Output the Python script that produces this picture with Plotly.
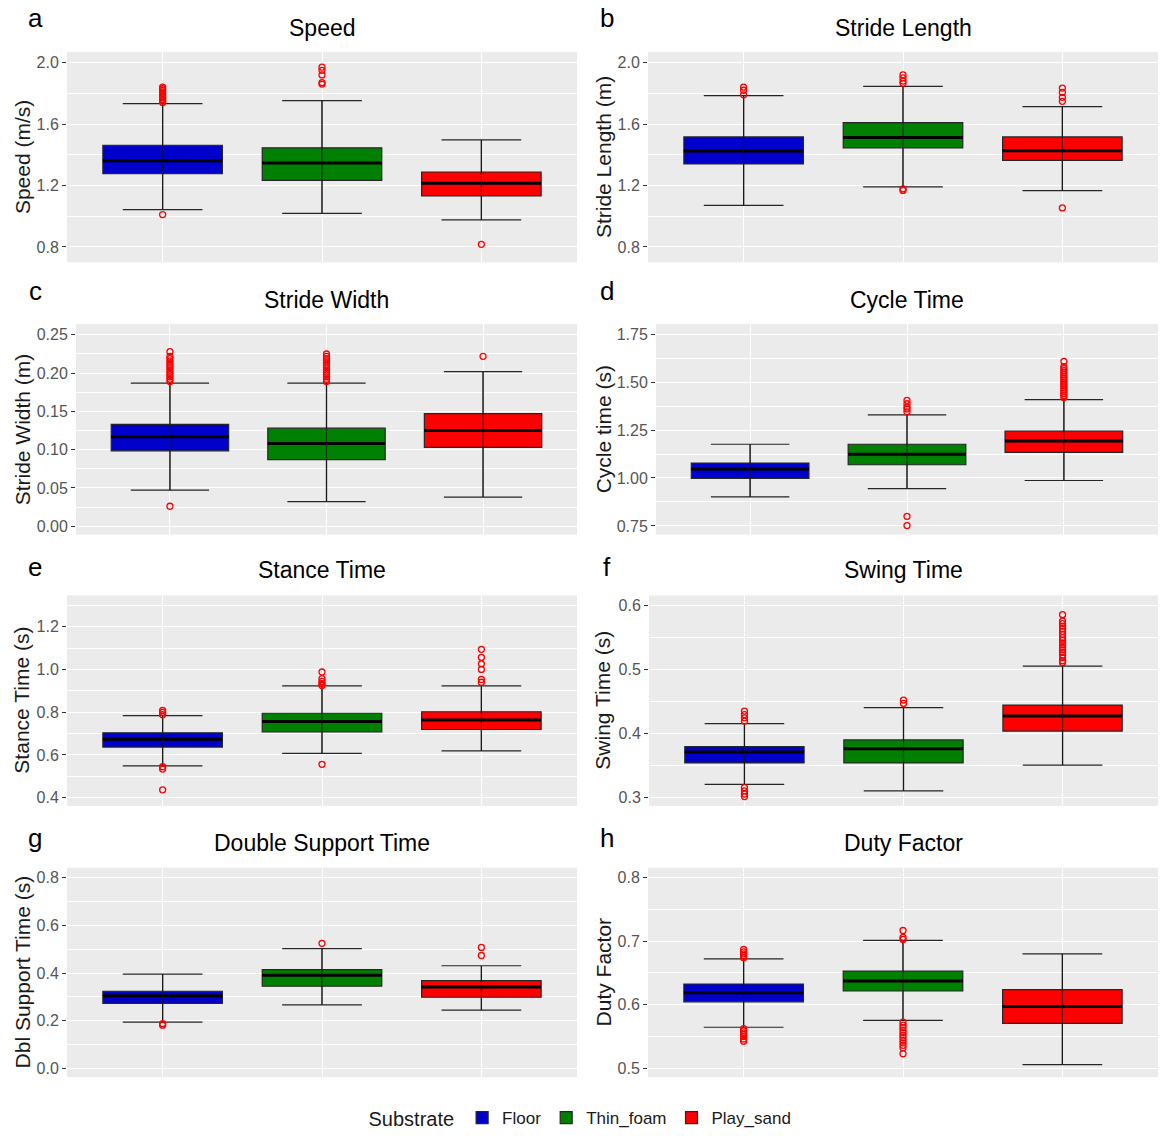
import plotly.graph_objects as go

# ---- data -------------------------------------------------------------
SUBSTRATES = ["Floor", "Thin_foam", "Play_sand"]

# Each row: [lower whisker, Q1, median, Q3, upper whisker], one row per substrate
speed_box = [
    [1.043, 1.277, 1.361, 1.462, 1.733],
    [1.019, 1.234, 1.346, 1.445, 1.753],
    [0.976, 1.133, 1.215, 1.288, 1.497],
]
speed_out = [
    [1.011, 1.74, 1.75, 1.76, 1.77, 1.78, 1.79, 1.80, 1.81, 1.82, 1.83, 1.84],
    [1.86, 1.87, 1.92, 1.95, 1.97],
    [0.817],
]

stride_len_box = [
    [1.071, 1.340, 1.424, 1.516, 1.785],
    [1.191, 1.445, 1.512, 1.609, 1.845],
    [1.166, 1.363, 1.426, 1.516, 1.714],
]
stride_len_out = [
    [1.79, 1.82, 1.84],
    [1.168, 1.178, 1.865, 1.88, 1.90, 1.92],
    [1.054, 1.748, 1.774, 1.806, 1.834],
]

stride_wid_box = [
    [0.047, 0.0985, 0.117, 0.133, 0.187],
    [0.032, 0.087, 0.108, 0.128, 0.187],
    [0.038, 0.103, 0.125, 0.147, 0.202],
]
stride_wid_out = [
    [0.026, 0.189, 0.192, 0.195, 0.198, 0.201, 0.204, 0.207, 0.210, 0.213,
     0.216, 0.219, 0.222, 0.228],
    [0.189, 0.192, 0.195, 0.198, 0.201, 0.204, 0.207, 0.210, 0.213, 0.216,
     0.219, 0.222, 0.225],
    [0.222],
]

cycle_box = [
    [0.902, 0.998, 1.047, 1.078, 1.176],
    [0.945, 1.069, 1.124, 1.176, 1.329],
    [0.987, 1.134, 1.193, 1.244, 1.408],
]
cycle_out = [
    [],
    [0.752, 0.800, 1.345, 1.36, 1.37, 1.387, 1.405],
    [1.42, 1.43, 1.44, 1.45, 1.46, 1.47, 1.48, 1.49, 1.50, 1.51, 1.52, 1.53,
     1.54, 1.55, 1.56, 1.57, 1.58, 1.608],
]

stance_box = [
    [0.549, 0.637, 0.674, 0.7035, 0.784],
    [0.607, 0.708, 0.756, 0.795, 0.923],
    [0.619, 0.719, 0.763, 0.802, 0.923],
]
stance_out = [
    [0.437, 0.534, 0.545, 0.788, 0.799, 0.808],
    [0.556, 0.925, 0.933, 0.944, 0.957, 0.988],
    [0.940, 0.953, 1.000, 1.026, 1.056, 1.094],
]

swing_box = [
    [0.321, 0.3545, 0.3717, 0.380, 0.416],
    [0.311, 0.3545, 0.3768, 0.3904, 0.4407],
    [0.351, 0.4043, 0.4277, 0.4448, 0.5055],
]
swing_out = [
    [0.302, 0.306, 0.311, 0.316, 0.420, 0.425, 0.430, 0.4355],
    [0.4474, 0.4526],
    [0.511, 0.514, 0.519, 0.523, 0.527, 0.531, 0.535, 0.539, 0.542, 0.546,
     0.550, 0.555, 0.560, 0.564, 0.568, 0.572, 0.576, 0.586],
]

dbl_box = [
    [0.195, 0.273, 0.305, 0.324, 0.396],
    [0.267, 0.345, 0.391, 0.4144, 0.503],
    [0.245, 0.299, 0.342, 0.369, 0.431],
]
dbl_out = [
    [0.182, 0.188],
    [0.525],
    [0.474, 0.508],
]

duty_box = [
    [0.5645, 0.6045, 0.619, 0.6326, 0.6721],
    [0.5754, 0.6216, 0.6372, 0.6528, 0.7012],
    [0.5057, 0.5707, 0.5972, 0.6237, 0.680],
]
duty_out = [
    [0.5426, 0.546, 0.550, 0.553, 0.5556, 0.559, 0.5624,
     0.674, 0.677, 0.680, 0.683, 0.687],
    [0.5228, 0.5322, 0.536, 0.540, 0.544, 0.548, 0.552, 0.556, 0.560, 0.564,
     0.568, 0.5725, 0.7028, 0.706, 0.7168],
    [],
]

# y tick labels per panel
ticks_speed = ["0.8", "1.2", "1.6", "2.0"]
ticks_stride_len = ["0.8", "1.2", "1.6", "2.0"]
ticks_stride_wid = ["0.00", "0.05", "0.10", "0.15", "0.20", "0.25"]
ticks_cycle = ["0.75", "1.00", "1.25", "1.50", "1.75"]
ticks_stance = ["0.4", "0.6", "0.8", "1.0", "1.2"]
ticks_swing = ["0.3", "0.4", "0.5", "0.6"]
ticks_dbl = ["0.0", "0.2", "0.4", "0.6", "0.8"]
ticks_duty = ["0.5", "0.6", "0.7", "0.8"]

# ---- styling ----------------------------------------------------------
W, H = 1163, 1136
FILLS = {"Floor": "#0000CD", "Thin_foam": "#008000", "Play_sand": "#FF0000"}
FONT = "Arial, Liberation Sans, sans-serif"
PANEL_BG = "#EBEBEB"

# letter, title, y title, stats, outliers, tick labels, y range, panel px (l, t, r, b)
panels = [
    ("a", "Speed", "Speed (m/s)", speed_box, speed_out, ticks_speed,
     [0.70, 2.07], (67, 52, 577, 263)),
    ("b", "Stride Length", "Stride Length (m)", stride_len_box, stride_len_out,
     ticks_stride_len, [0.70, 2.07], (648, 52, 1158, 263)),
    ("c", "Stride Width", "Stride Width (m)", stride_wid_box, stride_wid_out,
     ticks_stride_wid, [-0.011, 0.264], (76, 325, 577, 536)),
    ("d", "Cycle Time", "Cycle time (s)", cycle_box, cycle_out, ticks_cycle,
     [0.705, 1.802], (656, 325, 1158, 536)),
    ("e", "Stance Time", "Stance Time (s)", stance_box, stance_out,
     ticks_stance, [0.362, 1.346], (67, 597, 577, 808)),
    ("f", "Swing Time", "Swing Time (s)", swing_box, swing_out, ticks_swing,
     [0.2875, 0.616], (649, 597, 1158, 808)),
    ("g", "Double Support Time", "Dbl Support Time (s)", dbl_box, dbl_out,
     ticks_dbl, [-0.036, 0.842], (67, 870, 577, 1080)),
    ("h", "Duty Factor", "Duty Factor", duty_box, duty_out, ticks_duty,
     [0.486, 0.8156], (648, 870, 1158, 1080)),
]

fig = go.Figure()
layout = dict(
    width=W, height=H,
    margin=dict(l=0, r=0, t=0, b=0),
    paper_bgcolor="white", plot_bgcolor=PANEL_BG,
    boxmode="overlay",
    font=dict(family=FONT, color="#1A1A1A"),
    showlegend=True,
    annotations=[],
)

for i, (letter, title, ytitle, stats, outs, ticktext, yrange, box) in enumerate(panels):
    n = "" if i == 0 else str(i + 1)
    xa, ya = "x" + n, "y" + n
    l, t, r, b = box
    left_col = l < W / 2

    # main boxes with whisker caps
    for j, sub in enumerate(SUBSTRATES):
        lo, q1, med, q3, hi = stats[j]
        fig.add_trace(go.Box(
            x=[sub], q1=[q1], median=[med], q3=[q3],
            lowerfence=[lo], upperfence=[hi],
            width=0.75, whiskerwidth=0.667,
            fillcolor=FILLS[sub], line=dict(color="#262626", width=1.2),
            boxpoints=False, name=sub, legendgroup=sub,
            showlegend=(i == 0), xaxis=xa, yaxis=ya, hoverinfo="skip",
        ))
    # thick median bars
    for j, sub in enumerate(SUBSTRATES):
        med = stats[j][2]
        fig.add_trace(go.Box(
            x=[sub], q1=[med], median=[med], q3=[med],
            lowerfence=[med], upperfence=[med],
            width=0.75, fillcolor="rgba(0,0,0,0)",
            line=dict(color="black", width=3),
            boxpoints=False, showlegend=False, xaxis=xa, yaxis=ya,
            hoverinfo="skip",
        ))
    # whisker line drawn through the box
    for j, sub in enumerate(SUBSTRATES):
        lo, hi = stats[j][0], stats[j][4]
        fig.add_trace(go.Scatter(
            x=[sub, sub], y=[lo, hi], mode="lines",
            line=dict(color="rgba(20,20,20,0.7)", width=1.2),
            showlegend=False, xaxis=xa, yaxis=ya, hoverinfo="skip",
        ))
    # outliers
    for j, sub in enumerate(SUBSTRATES):
        if not outs[j]:
            continue
        fig.add_trace(go.Scatter(
            x=[sub] * len(outs[j]), y=outs[j], mode="markers",
            marker=dict(symbol="circle-open", size=6, color="#FF0000",
                        line=dict(width=1.3, color="#FF0000")),
            showlegend=False, xaxis=xa, yaxis=ya, hoverinfo="skip",
        ))

    tickvals = [float(v) for v in ticktext]
    step = tickvals[1] - tickvals[0]
    minorvals = [v + step / 2 for v in tickvals[:-1]]
    if tickvals[0] - step / 2 > yrange[0]:
        minorvals.insert(0, tickvals[0] - step / 2)
    if tickvals[-1] + step / 2 < yrange[1]:
        minorvals.append(tickvals[-1] + step / 2)

    layout["xaxis" + n] = dict(
        domain=[l / W, r / W], anchor=ya,
        type="category", categoryorder="array", categoryarray=SUBSTRATES,
        range=[-0.6, 2.6], showticklabels=False, ticks="",
        showgrid=True, gridcolor="white", gridwidth=1.1,
        zeroline=False, showline=False, fixedrange=True,
    )
    layout["yaxis" + n] = dict(
        domain=[1 - b / H, 1 - t / H], anchor=xa,
        range=yrange, tickmode="array", tickvals=tickvals, ticktext=ticktext,
        ticks="outside", ticklen=4, tickwidth=1, tickcolor="#333333",
        tickfont=dict(size=16, color="#555555", family=FONT),
        showgrid=True, gridcolor="white", gridwidth=1.1,
        minor=dict(tickvals=minorvals, showgrid=True, gridcolor="white",
                   gridwidth=0.55, ticks=""),
        zeroline=False, showline=False, fixedrange=True,
    )

    cx = (l + r) / 2 / W
    title_y = {52: 28, 325: 301, 597: 572, 870: 845}[t]
    letter_y = {52: 18, 325: 292, 597: 568, 870: 840}[t]
    layout["annotations"].append(dict(
        text=title, x=cx, y=1 - title_y / H, xref="paper", yref="paper",
        xanchor="center", yanchor="middle", showarrow=False,
        font=dict(size=23, color="black", family=FONT),
    ))
    layout["annotations"].append(dict(
        text=letter, x=(35 if left_col else 607) / W, y=1 - letter_y / H,
        xref="paper", yref="paper", xanchor="center", yanchor="middle",
        showarrow=False, font=dict(size=26, color="black", family=FONT),
    ))
    layout["annotations"].append(dict(
        text=ytitle, x=(22 if left_col else 603) / W, y=1 - (t + b) / 2 / H,
        xref="paper", yref="paper", xanchor="center", yanchor="middle",
        textangle=-90, showarrow=False,
        font=dict(size=21, color="#1A1A1A", family=FONT),
    ))

layout["legend"] = dict(
    orientation="h", x=0.5, xanchor="center", y=1 - 1121 / H, yanchor="middle",
    title=dict(text="Substrate", side="left",
               font=dict(size=20, color="#1A1A1A", family=FONT)),
    font=dict(size=17, color="#1A1A1A", family=FONT),
    bgcolor="rgba(0,0,0,0)", itemwidth=30,
)

fig.update_layout(**layout)
fig.write_html("out.html")
